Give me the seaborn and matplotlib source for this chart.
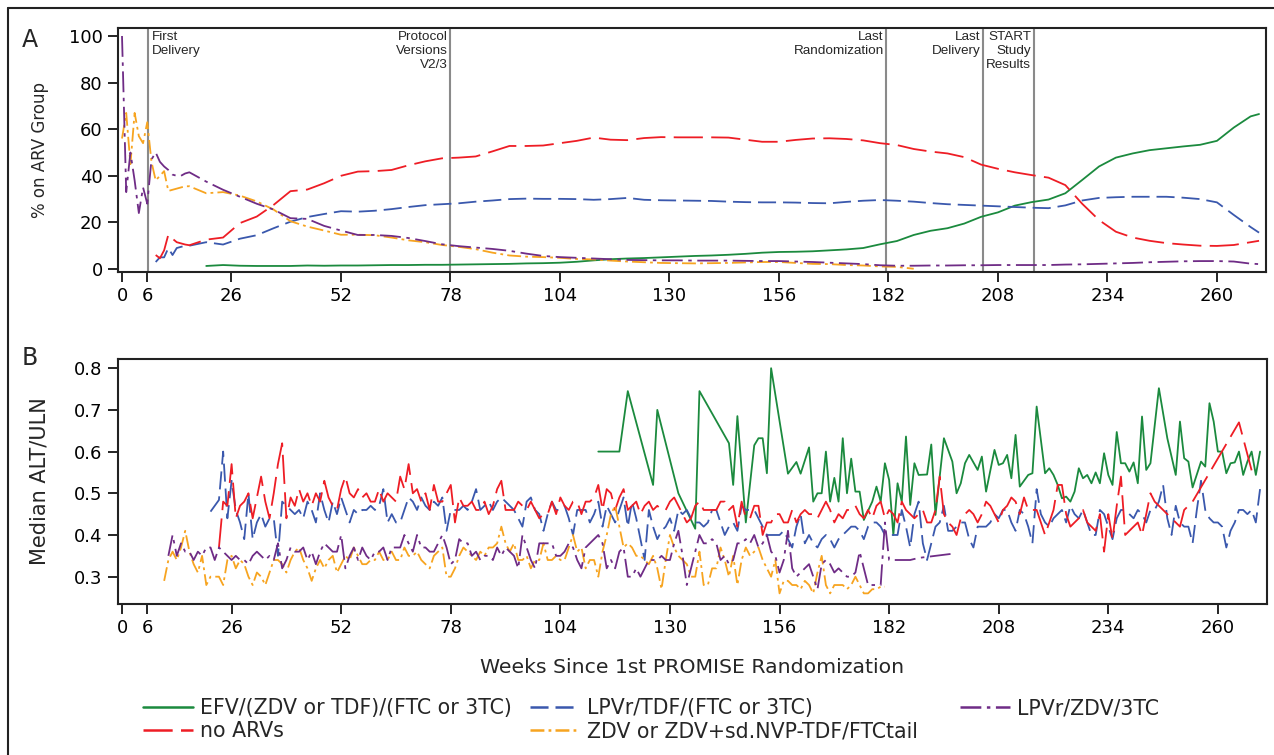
import numpy as np
import pandas as pd
import matplotlib
matplotlib.use("Agg")
import matplotlib.pyplot as plt
from matplotlib.lines import Line2D
import seaborn as sns

# ---------------- data ----------------
series_names = ["EFV/(ZDV or TDF)/(FTC or 3TC)", "no ARVs", "LPVr/TDF/(FTC or 3TC)",
                "ZDV or ZDV+sd.NVP-TDF/FTCtail", "LPVr/ZDV/3TC"]
x_ticks = [0, 6, 26, 52, 78, 104, 130, 156, 182, 208, 234, 260]

# Panel A: % on ARV group (weeks 0-15 weekly, then every 4 weeks, then 270)
weeks_a = list(range(16)) + list(range(16, 269, 4)) + [270]
N = None
a_green = ([N] * 16 +
           [N, 1.3, 1.7, 1.4, 1.3, 1.3, 1.3, 1.5, 1.4, 1.5,
            1.5, 1.6, 1.7, 1.7, 1.8, 1.8, 1.9, 2.0, 2.1, 2.2,
            2.4, 2.5, 2.7, 3.1, 3.7, 4.2, 4.5, 4.7, 5.0, 5.3,
            5.6, 5.8, 6.1, 6.5, 7.0, 7.3, 7.4, 7.6, 8.0, 8.4,
            9.0, 10.6, 12, 14.6, 16.4, 17.5, 19.5, 22.4, 24.3, 27.2,
            28.7, 29.8, 32.5, 38.2, 44, 47.8, 49.6, 51, 51.8, 52.6,
            53.3, 55, 60.7, 65.5] + [66.5])
a_red = ([N] * 8 + [6, 4.6, 8, 14.7, 13, 11.5, 11, 10.5] +
         [10.2, 12.6, 13.5, 19.7, 22.5, 27.5, 33.4, 34.1, 36.8, 40,
          41.8, 42, 42.5, 44.5, 46.2, 47.5, 47.8, 48.3, 50.5, 52.8,
          52.8, 53, 54, 55, 56.4, 55.5, 55.3, 56.2, 56.6, 56.5,
          56.5, 56.5, 56.4, 55.5, 54.6, 54.6, 55.4, 56, 56.1, 55.8,
          55.2, 54, 53.2, 51.5, 50.4, 49.6, 48, 44.8, 43, 41.5,
          40.3, 39.2, 36, 28, 21, 16, 13.5, 12.1, 11.1, 10.5,
          10, 9.9, 10.3, 11.5] + [12.1])
a_blue = ([N] * 8 + [3, 5, 5, 9, 6, 9, 9.5, 10] +
          [10, 11.5, 10.5, 13, 14.5, 17.5, 20.3, 22.3, 23.6, 24.8,
           24.6, 25, 25.7, 26.6, 27.4, 27.8, 28.2, 28.9, 29.4, 30,
           30.2, 30.1, 30.1, 30, 29.7, 30, 30.5, 29.7, 29.5, 29.4,
           29.3, 29.2, 28.9, 28.7, 28.6, 28.6, 28.5, 28.3, 28.2, 28.8,
           29.3, 29.6, 29.3, 28.9, 28.3, 27.8, 27.5, 27.2, 26.9, 26.6,
           26.3, 26.1, 27.3, 29.4, 30.5, 30.8, 31, 31, 31, 30.6,
           30, 28.6, 23.2, 18] + [15.6])
a_orange = ([56, 67, 45, 67, 57, 54, 63, 46, 38, 40, 42, 33.5, 34, 34.5, 35, 35.5] +
            [35.5, 32.5, 33, 31.5, 29, 25.5, 20.5, 18.2, 16.5, 14.7,
             14.7, 14.5, 13.5, 12.3, 11.5, 10.3, 9.5, 8.5, 7, 5.8,
             5.3, 5.1, 4.8, 4.3, 4.1, 3.6, 3.2, 2.9, 2.6, 2.5,
             2.4, 2.5, 2.6, 2.8, 3.0, 3.0, 2.6, 2.2, 2.1, 1.7,
             1.5, 1.1, 0.9, 0.1, N, N, N, N, N, N,
             N, N, N, N, N, N, N, N, N, N,
             N, N, N, N] + [N])
a_purple = ([100, 33, 50, 38, 24, 35, 28, 47, 50, 46, 44, 42.5, 40.5, 40, 40, 41] +
            [41.5, 37.5, 34, 31, 28, 25.5, 21.8, 21.5, 18.5, 16.5,
             14.6, 14.6, 14.2, 13.3, 12, 10.6, 9.8, 9.2, 8.6, 7.8,
             6.6, 5.6, 5.1, 4.8, 4.5, 4.2, 3.9, 3.8, 3.7, 3.7,
             3.6, 3.6, 3.6, 3.5, 3.4, 3.4, 3.2, 3.0, 2.7, 2.4,
             2.1, 1.6, 1.4, 1.4, 1.5, 1.5, 1.6, 1.6, 1.7, 1.7,
             1.7, 1.7, 1.9, 2.0, 2.2, 2.4, 2.6, 2.9, 3.1, 3.3,
             3.4, 3.4, 3.2, 2.3] + [2.1])

# Panel B: median ALT/ULN, weekly values from a start week
b_green_start = 113
b_green = [0.60, N, N, N, N, 0.60, N, 0.745, N, N,
           N, N, N, 0.52, 0.70, N, N, N, N, 0.50,
           N, N, N, 0.415, 0.745, N, N, N, N, N,
           N, 0.62, 0.52, 0.685, N, 0.43, N, 0.615, 0.632, 0.632,
           0.548, 0.80, N, N, N, 0.547, N, 0.575, 0.547, N,
           0.61, 0.48, 0.50, 0.50, 0.60, 0.48, 0.537, 0.48, 0.632, 0.50,
           0.583, 0.504, 0.504, 0.436, N, 0.48, 0.516, 0.48, 0.572, 0.532,
           0.40, 0.524, 0.48, 0.636, 0.472, 0.572, 0.544, N, 0.545, 0.617,
           0.448, N, 0.632, N, 0.576, 0.50, 0.524, 0.572, 0.592, N,
           0.556, 0.588, 0.504, N, 0.604, 0.568, 0.572, 0.592, 0.536, 0.64,
           0.516, N, 0.544, 0.548, 0.708, N, 0.548, 0.56, 0.544, 0.52,
           0.488, 0.492, 0.48, 0.504, 0.56, 0.536, 0.544, 0.524, 0.55, 0.524,
           0.596, 0.544, 0.52, 0.647, 0.572, 0.572, 0.552, 0.574, 0.524, 0.684,
           0.556, 0.572, N, 0.752, N, 0.632, N, 0.544, 0.672, 0.584,
           0.576, 0.514, N, 0.576, 0.564, 0.716, 0.672, 0.60, 0.60, 0.548,
           0.572, 0.574, 0.60, 0.544, 0.576, 0.60, 0.544, 0.60]
b_red_start = 23
b_red = [0.37, 0.48, 0.47, 0.57, 0.44, 0.47, 0.48, 0.50, 0.44, 0.49,
         0.54, 0.48, 0.44, 0.50, 0.57, 0.62, 0.44, 0.49, 0.47, 0.51,
         0.48, 0.50, 0.47, 0.50, 0.48, 0.53, 0.49, 0.47, 0.46, 0.51,
         0.54, 0.50, 0.49, 0.51, 0.49, 0.50, 0.48, 0.48, 0.51, 0.48,
         0.50, 0.49, 0.48, 0.54, 0.51, 0.57, 0.50, 0.51, 0.48, 0.50,
         0.46, 0.52, 0.48, 0.48, 0.50, 0.52, 0.43, 0.49, 0.47, 0.47,
         0.48, 0.46, 0.46, 0.48, 0.45, 0.47, 0.51, 0.53, 0.46, 0.46,
         0.46, 0.48, 0.47, 0.46, 0.48, 0.46, 0.44, 0.45, 0.45, 0.48,
         0.45, 0.49, 0.47, 0.46, 0.48, 0.48, 0.45, 0.48, 0.48, 0.49,
         0.52, 0.46, 0.51, 0.50, 0.46, 0.49, 0.51, 0.46, 0.47, 0.48,
         0.45, 0.47, 0.48, 0.46, 0.47, 0.46, 0.46, 0.48, 0.49, 0.47,
         0.45, 0.43, 0.44, 0.47, 0.48, 0.46, 0.46, 0.46, 0.46, 0.48,
         0.48, 0.46, 0.47, 0.42, 0.48, 0.44, 0.44, 0.47, 0.47, 0.40,
         0.43, 0.43, 0.45, 0.45, 0.43, 0.43, 0.46, 0.43, 0.45, 0.46,
         0.45, 0.45, 0.44, 0.46, 0.48, 0.46, 0.43, 0.45, 0.44, 0.46,
         0.46, 0.47, 0.45, 0.44, 0.46, 0.44, 0.47, 0.48, 0.44, 0.46,
         0.45, 0.43, 0.48, 0.46, 0.45, 0.44, 0.45, 0.46, 0.43, 0.43,
         0.46, 0.54, 0.45, 0.43, 0.42, 0.40, 0.44, 0.45, 0.46, 0.45,
         0.43, 0.45, 0.48, 0.47, 0.45, 0.43, 0.46, 0.47, 0.49, 0.48,
         0.45, 0.49, 0.46, 0.46, 0.46, 0.43, 0.40, 0.43, 0.46, 0.52,
         0.52, 0.45, 0.42, 0.43, 0.44, 0.46, 0.43, 0.42, 0.41, 0.45,
         0.36, 0.45, 0.39, 0.47, 0.54, 0.40, 0.41, N, 0.43, 0.40,
         N, 0.50, 0.48, N, 0.46, N, 0.44, N, 0.42, 0.46,
         N, 0.48, N, N, N, N, N, N, N, N,
         N, N, 0.67, N, N, 0.555]
b_blue_start = 21
b_blue = [0.456, 0.47, 0.484, 0.60, 0.44, 0.53, 0.46, 0.43, 0.39, 0.50,
          0.39, 0.43, 0.45, 0.42, 0.44, 0.44, 0.35, 0.48, 0.47, 0.46,
          0.45, 0.46, 0.44, 0.48, 0.46, 0.43, 0.50, 0.46, 0.43, 0.48,
          0.45, 0.49, 0.46, 0.43, 0.46, 0.45, 0.46, 0.46, 0.47, 0.46,
          0.47, 0.51, 0.43, 0.45, 0.43, 0.43, 0.46, 0.49, 0.48, 0.46,
          0.49, 0.47, 0.46, 0.48, 0.47, 0.49, 0.41, 0.46, 0.46, 0.46,
          0.47, 0.46, 0.48, 0.51, 0.46, 0.47, 0.48, 0.46, 0.48, 0.49,
          0.48, 0.47, 0.46, 0.44, 0.42, 0.48, 0.49, 0.46, 0.45, 0.41,
          0.45, 0.48, 0.46, 0.46, 0.47, 0.44, 0.40, 0.46, 0.46, 0.46,
          0.43, 0.45, 0.48, 0.42, 0.47, 0.45, 0.43, 0.46, 0.49, 0.42,
          0.48, 0.44, 0.39, 0.34, 0.46, 0.42, 0.39, 0.41, 0.42, 0.44,
          0.41, 0.46, 0.45, 0.46, 0.44, 0.43, 0.43, 0.42, 0.43, 0.46,
          0.46, 0.43, 0.40, 0.42, 0.43, 0.41, 0.47, 0.46, 0.46, 0.46,
          0.44, 0.42, 0.40, 0.40, 0.40, 0.40, 0.41, 0.39, 0.37, 0.42,
          0.45, 0.38, 0.40, 0.38, 0.37, 0.39, 0.40, 0.39, 0.37, 0.39,
          0.40, 0.41, 0.42, 0.42, 0.41, 0.39, 0.42, 0.43, 0.43, 0.42,
          0.40, 0.40, 0.40, 0.40, 0.46, 0.42, 0.37, 0.45, 0.48, 0.38,
          0.34, 0.38, 0.42, 0.43, 0.47, 0.41, 0.41, 0.42, 0.43, 0.43,
          0.39, 0.37, 0.42, 0.42, 0.42, 0.43, 0.45, 0.44, 0.46, 0.46,
          0.43, 0.41, 0.46, 0.45, 0.42, 0.38, 0.51, 0.45, 0.43, 0.42,
          0.44, 0.45, 0.46, 0.43, 0.47, 0.45, 0.44, 0.46, 0.43, 0.40,
          0.40, 0.46, 0.45, 0.42, 0.39, 0.44, 0.46, 0.46, 0.45, 0.44,
          0.46, 0.45, 0.43, 0.46, 0.46, 0.48, 0.52, 0.44, 0.40, 0.47,
          0.43, 0.42, 0.42, 0.38, 0.46, 0.53, 0.46, 0.44, 0.43, 0.43,
          0.42, 0.37, 0.41, 0.43, 0.46, 0.46, 0.45, 0.46, 0.43, 0.51]
b_orange_start = 10
b_orange = [0.29, 0.34, 0.36, 0.34, 0.37, 0.41, 0.36, 0.33, 0.31, 0.35,
            0.28, 0.30, 0.30, 0.30, 0.28, 0.34, 0.35, 0.32, 0.34, 0.33,
            0.30, 0.28, 0.31, 0.30, 0.28, 0.31, 0.34, 0.34, 0.33, 0.31,
            0.34, 0.36, 0.37, 0.34, 0.32, 0.29, 0.32, 0.34, 0.32, 0.34,
            0.35, 0.31, 0.33, 0.35, 0.34, 0.37, 0.35, 0.33, 0.33, 0.34,
            0.34, 0.36, 0.34, 0.34, 0.36, 0.34, 0.34, 0.37, 0.35, 0.35,
            0.36, 0.34, 0.33, 0.32, 0.35, 0.36, 0.37, 0.30, 0.30, 0.32,
            0.35, 0.37, 0.36, 0.35, 0.34, 0.36, 0.35, 0.37, 0.37, 0.38,
            0.42, 0.38, 0.36, 0.38, 0.34, 0.34, 0.35, 0.32, 0.34, 0.34,
            0.38, 0.34, 0.34, 0.35, 0.34, 0.34, 0.37, 0.40, 0.36, 0.37,
            0.32, 0.34, 0.34, 0.30, 0.36, 0.40, 0.45, 0.47, 0.42, 0.37,
            0.38, 0.37, 0.35, 0.35, 0.34, 0.33, 0.35, 0.32, 0.27, 0.34,
            0.40, 0.37, 0.35, 0.34, 0.33, 0.30, 0.30, 0.36, 0.28, 0.28,
            0.32, 0.32, 0.37, 0.34, 0.30, 0.35, 0.28, 0.34, 0.37, 0.35,
            0.36, 0.37, 0.34, 0.32, 0.30, 0.34, 0.26, 0.29, 0.29, 0.28,
            0.28, 0.27, 0.29, 0.28, 0.26, 0.31, 0.35, 0.28, 0.26, 0.28,
            0.28, 0.28, 0.27, 0.28, 0.30, 0.28, 0.26, 0.26, 0.27, 0.27,
            0.276, 0.276]
b_purple_start = 11
b_purple = [0.35, 0.40, 0.35, 0.38, 0.36, 0.36, 0.34, 0.36, 0.35, 0.37,
            0.37, 0.34, 0.37, 0.36, 0.35, 0.34, 0.35, 0.34, 0.34, 0.33,
            0.35, 0.36, 0.35, 0.34, 0.35, 0.34, 0.38, 0.32, 0.34, 0.37,
            0.36, 0.36, 0.37, 0.34, 0.36, 0.33, 0.36, 0.38, 0.37, 0.36,
            0.36, 0.40, 0.32, 0.35, 0.37, 0.34, 0.37, 0.35, 0.34, 0.36,
            0.36, 0.37, 0.34, 0.37, 0.37, 0.37, 0.40, 0.38, 0.36, 0.40,
            0.37, 0.37, 0.36, 0.36, 0.38, 0.40, 0.37, 0.33, 0.34, 0.39,
            0.38, 0.38, 0.35, 0.36, 0.34, 0.35, 0.35, 0.34, 0.37, 0.35,
            0.37, 0.36, 0.35, 0.32, 0.40, 0.37, 0.34, 0.32, 0.38, 0.38,
            0.38, 0.38, 0.35, 0.35, 0.36, 0.38, 0.37, 0.34, 0.32, 0.37,
            0.38, 0.39, 0.40, 0.38, 0.32, 0.34, 0.32, 0.36, 0.37, 0.30,
            0.30, 0.32, 0.30, 0.32, 0.34, 0.34, 0.34, 0.35, 0.34, 0.34,
            0.38, 0.41, 0.35, 0.28, 0.32, 0.36, 0.40, 0.38, 0.38, 0.39,
            0.38, 0.34, 0.35, 0.33, 0.34, 0.38, 0.38, 0.39, 0.38, 0.40,
            0.37, 0.38, 0.40, 0.36, 0.35, 0.31, 0.34, 0.41, 0.32, 0.30,
            0.31, 0.32, 0.33, 0.30, 0.27, 0.33, 0.34, 0.33, 0.31, 0.32,
            0.31, 0.30, 0.30, 0.31, 0.36, 0.32, 0.28, 0.28, 0.28, 0.28,
            0.43, 0.34, N, 0.34, N, N, 0.34, N, 0.345, N,
            N, N, N, N, N, N, 0.355]

event_weeks = [6.2, 78, 181.5, 204.5, 216.5]
event_labels = ["First\nDelivery", "Protocol\nVersions\nV2/3", "Last\nRandomization",
                "Last\nDelivery", "START\nStudy\nResults"]

# ---------------- style ----------------
colors = {"green": "#1b8a3e", "red": "#ee1d25", "blue": "#3a58ad",
          "orange": "#f7a420", "purple": "#6f2c86"}
styles = {"green": "-", "red": (0, (21, 6)), "blue": (0, (13, 5)),
          "orange": (0, (10, 3, 2, 3)), "purple": (0, (15, 4, 2.5, 4))}

sns.set_theme(style="white")
plt.rcParams["font.family"] = ["DejaVu Sans"]
plt.rcParams["lines.scale_dashes"] = False

W, H = 1274, 755
fig = plt.figure(figsize=(W / 100, H / 100), dpi=100)

xmin, xmax = -0.95, 271.65
axA = fig.add_axes([118 / W, 1 - 272 / H, (1266 - 118) / W, (272 - 28) / H])
axB = fig.add_axes([118 / W, 1 - 604 / H, (1267 - 118) / W, (604 - 359) / H])


def draw(ax, x, y, key, lw=1.3):
    df = pd.DataFrame({"x": x, "y": pd.to_numeric(pd.Series(y, dtype="object"), errors="coerce")}).dropna()
    sns.lineplot(data=df, x="x", y="y", ax=ax, color=colors[key], linewidth=lw,
                 estimator=None, sort=False)
    ax.lines[-1].set_linestyle(styles[key])


# Panel A
for key, vals in [("green", a_green), ("blue", a_blue), ("red", a_red),
                  ("orange", a_orange), ("purple", a_purple)]:
    assert len(vals) == len(weeks_a), (key, len(vals))
    draw(axA, weeks_a, vals, key)
for wk in event_weeks:
    axA.axvline(wk, color="#8a8a8a", lw=1.5, zorder=0)
for wk, lab in zip(event_weeks, event_labels):
    if wk < 10:
        axA.text(wk + 0.8, 102.2, lab, ha="left", va="top", fontsize=9.7,
                 linespacing=1.22, family="Liberation Sans")
    else:
        axA.text(wk - 0.6, 102.2, lab, ha="right", va="top", fontsize=9.7,
                 linespacing=1.22, multialignment="right", family="Liberation Sans")
axA.set_ylim(-1.29, 103.43)
axA.set_yticks([0, 20, 40, 60, 80, 100])
axA.set_ylabel("% on ARV Group", fontsize=12, labelpad=14)

# Panel B
for key, start, vals in [("green", b_green_start, b_green), ("blue", b_blue_start, b_blue),
                         ("red", b_red_start, b_red), ("orange", b_orange_start, b_orange),
                         ("purple", b_purple_start, b_purple)]:
    draw(axB, np.arange(start, start + len(vals)), vals, key)
axB.set_ylim(0.2345, 0.822)
axB.set_yticks([0.3, 0.4, 0.5, 0.6, 0.7, 0.8])
axB.set_yticklabels(["0.3", "0.4", "0.5", "0.6", "0.7", "0.8"])
axB.set_ylabel("Median ALT/ULN", fontsize=15, labelpad=18)
axB.set_xlabel("Weeks Since 1st PROMISE Randomization", fontsize=14.7, labelpad=15)

for ax in (axA, axB):
    ax.set_xlim(xmin, xmax)
    ax.set_xticks(x_ticks)
    ax.set_xticklabels([str(t) for t in x_ticks])
    ax.tick_params(axis="both", direction="out", length=7, width=1.2, labelsize=13,
                   colors="black", pad=4, bottom=True, left=True)
    for s in ax.spines.values():
        s.set_color("#222222")
        s.set_linewidth(1.5)
    ax.set_facecolor("white")
axA.set_xlabel("")

fig.text(30 / W, 1 - 40 / H, "A", fontsize=17, ha="center", va="center")
fig.text(30 / W, 1 - 358 / H, "B", fontsize=17, ha="center", va="center")

# frame lines on left and top of the figure
fig.add_artist(Line2D([8 / W, 8 / W], [0, 1 - 8 / H], transform=fig.transFigure,
                      color="#222222", lw=1.5))
fig.add_artist(Line2D([8 / W, 1], [1 - 8 / H, 1 - 8 / H], transform=fig.transFigure,
                      color="#222222", lw=1.5))

# legend in three columns
def handle(key):
    return Line2D([], [], color=colors[key], lw=1.8, linestyle=styles[key])

cols = [([handle("green"), handle("red")], [series_names[0], series_names[1]], 143),
        ([handle("blue"), handle("orange")], [series_names[2], series_names[3]], 530),
        ([handle("purple")], [series_names[4]], 960)]
for hs, ls, x0 in cols:
    fig.legend(hs, ls, loc="upper left", bbox_to_anchor=(x0 / W, 1 - 698 / H),
               frameon=False, fontsize=14.8, handlelength=2.45, handletextpad=0.33,
               borderpad=0, borderaxespad=0, labelspacing=0.15)

fig.savefig("out.png", dpi=100)
